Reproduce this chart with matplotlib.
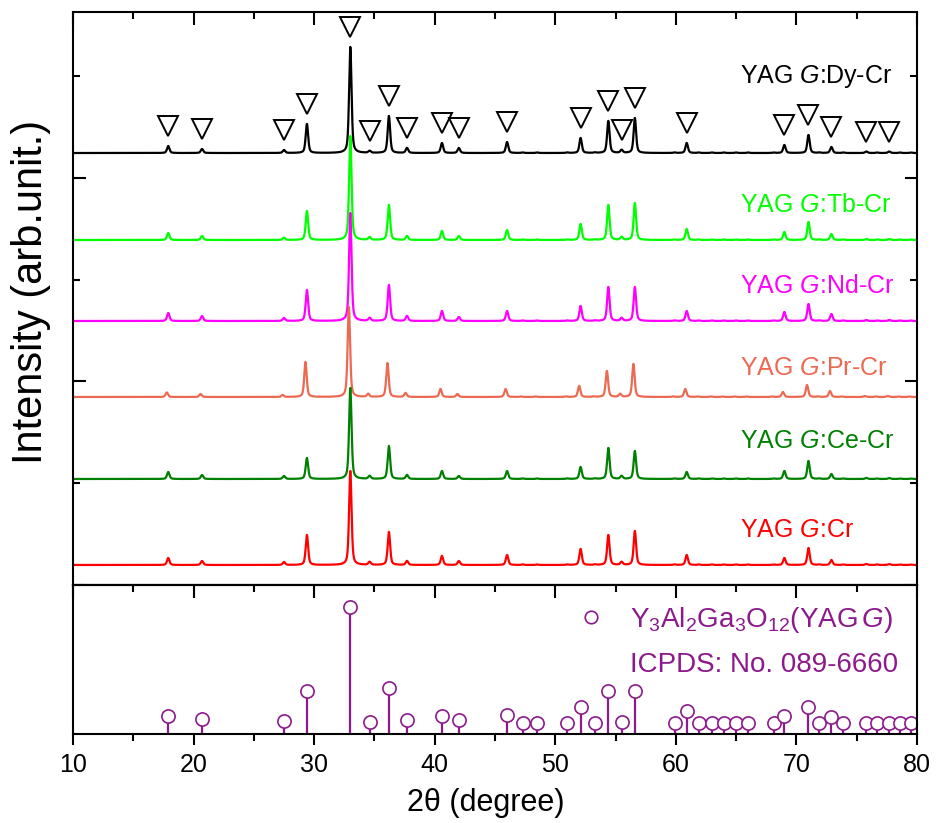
import numpy as np
import matplotlib.pyplot as plt
from matplotlib.ticker import MultipleLocator

plt.rcParams['font.family'] = ['Liberation Sans', 'DejaVu Sans']
plt.rcParams['mathtext.fontset'] = 'custom'
plt.rcParams['mathtext.rm'] = 'Liberation Sans'
plt.rcParams['mathtext.it'] = 'Liberation Sans:italic'

# peak positions (2theta)
peak_pos = [17.9, 20.7, 27.5, 29.4, 33.0, 34.6, 36.2, 37.7, 40.6, 42.0, 46.0, 47.3,
            48.5, 51.0, 52.1, 53.3, 54.4, 55.5, 56.6, 59.9, 60.9, 61.9, 63.0, 64.0,
            65.0, 66.0, 68.1, 69.0, 71.0, 71.9, 72.9, 73.9, 75.8, 76.7, 77.7, 78.6, 79.5]

samples = ['Dy-Cr', 'Tb-Cr', 'Nd-Cr', 'Pr-Cr', 'Ce-Cr', 'Cr']
colors = ['black', '#00FF00', '#FF00FF', '#EC6A52', '#008000', '#FF0000']
offsets = [432, 345, 264, 188, 106, 20]
shifts = [0.0, 0.0, 0.0, -0.12, 0.0, 0.0]

h_dy = [7, 4, 3, 29, 106, 2, 37, 5, 10, 5, 11, 0.5, 0.5, 0.5, 15, 0.5, 32, 3, 35, 0.5, 10, 0.5, 0.5, 0.5,
        0.5, 0.5, 0.5, 8, 18, 0.5, 6, 0.5, 1.5, 0.5, 1.5, 0.5, 0.5]
h_tb = [7, 4, 2.3, 29, 104, 2.7, 35, 4, 9, 4, 10, 0.5, 0.5, 0.5, 16, 0.5, 35, 3, 37, 0.5, 11, 0.5, 0.5, 0.5,
        0.5, 0.5, 0.5, 8, 18, 0.5, 6, 0.5, 1, 0.5, 1, 0.5, 0.5]
h_nd = [8, 5, 3, 31, 108, 3, 36, 5, 10, 4, 10, 0.5, 0.5, 0.5, 15, 0.5, 34, 3, 34, 0.5, 10, 0.5, 0.5, 0.5,
        0.5, 0.5, 0.5, 9, 17, 0.5, 7, 0.5, 1, 0.5, 1, 0.5, 0.5]
h_pr = [4.5, 3, 2, 35, 90, 3, 34, 4, 8, 3, 8, 0.5, 0.5, 0.5, 11, 0.5, 26, 3, 33, 0.5, 8, 0.5, 0.5, 0.5,
        0.5, 0.5, 0.5, 5, 12, 0.5, 6, 0.5, 1, 0.5, 1, 0.5, 0.5]
h_ce = [7, 4, 3, 21, 91, 3, 33, 4, 8, 3, 8, 0.5, 0.5, 0.5, 12, 0.5, 31, 3, 28, 0.5, 7, 0.5, 0.5, 0.5,
        0.5, 0.5, 0.5, 8, 18, 0.5, 5, 0.5, 1, 0.5, 1, 0.5, 0.5]
h_cr = [7, 4, 3, 30, 94, 3, 33, 4, 9, 4, 10, 0.5, 0.5, 0.5, 16, 0.5, 30, 3, 34, 0.5, 10, 0.5, 0.5, 0.5,
        0.5, 0.5, 0.5, 7, 17, 0.5, 5, 0.5, 1, 0.5, 1, 0.5, 0.5]
heights = [h_dy, h_tb, h_nd, h_pr, h_ce, h_cr]

# peaks marked with a triangle on the top pattern
tri_idx = [0, 1, 2, 3, 4, 5, 6, 7, 8, 9, 10, 14, 16, 17, 18, 20, 27, 28, 30, 32, 34]

# reference card (stick pattern)
ref_h = [18, 15, 13, 43, 127, 12, 46, 14, 18, 14, 19, 11, 11, 11, 27, 11, 43, 12, 43, 11,
         23, 11, 11, 11, 11, 11, 11, 18, 27, 11, 17, 11, 11, 11, 11, 11, 11]
purple = '#8C1A8C'


def pattern(x, pos, h, shift, fwhm=0.24, eta=0.5):
    y = np.zeros_like(x)
    hw = fwhm / 2
    for p, a in zip(pos, h):
        d = (x - p - shift) / hw
        y += a * (eta / (1 + d ** 2) + (1 - eta) * np.exp(-np.log(2) * d ** 2))
    return y


fig = plt.figure(figsize=(9.36, 8.23), dpi=100)
ax1 = fig.add_axes([0.078, 0.2892, 0.9017, 0.6962])
ax2 = fig.add_axes([0.078, 0.1081, 0.9017, 0.1811])

x = np.arange(10, 80.001, 0.01)
for name, c, off, sh, h in zip(samples, colors, offsets, shifts, heights):
    ax1.plot(x, off + pattern(x, peak_pos, h, sh), color=c, lw=1.6)

label_y = [502, 373, 292, 210, 137, 48]
for name, c, ly in zip(samples, colors, label_y):
    ax1.text(65.3, ly, r'YAG $\mathit{G}$:' + name, color=c, fontsize=18,
             ha='left', va='baseline')

tri_x = [peak_pos[i] for i in tri_idx]
tri_y = [offsets[0] + h_dy[i] + 20 for i in tri_idx]
ax1.plot(tri_x, tri_y, 'v', ls='none', ms=14, mfc='none', mec='black', mew=1.4)

ax1.set_xlim(10, 80)
ax1.set_ylim(0, 573)
ax1.set_yticks([0, 204, 407])
ax1.set_yticks([102, 305, 509], minor=True)
ax1.xaxis.set_major_locator(MultipleLocator(10))
ax1.xaxis.set_minor_locator(MultipleLocator(5))
ax1.tick_params(axis='x', which='both', direction='in', top=True, bottom=False,
                labelbottom=False, width=1.5)
ax1.tick_params(axis='y', which='both', direction='in', left=True, right=True,
                labelleft=False, width=1.5)
ax1.tick_params(which='major', length=9)
ax1.tick_params(which='minor', length=5)

ax2.vlines(peak_pos, 0, ref_h, color=purple, lw=1.6)
ax2.plot(peak_pos, ref_h, 'o', ls='none', ms=9.5, mfc='white', mec=purple, mew=1.2)
ax2.plot([53.0], [117], 'o', ms=9, mfc='white', mec=purple, mew=1.2)
ax2.text(56.2, 107, r'Y$_3$Al$_2$Ga$_3$O$_{12}$(YAG$\,\mathit{G}$)', color=purple,
         fontsize=20, ha='left', va='baseline')
ax2.text(56.2, 62, 'ICPDS: No. 089-6660', color=purple, fontsize=20,
         ha='left', va='baseline')
ax2.set_xlim(10, 80)
ax2.set_ylim(0, 149)
ax2.set_yticks([])
ax2.xaxis.set_major_locator(MultipleLocator(10))
ax2.xaxis.set_minor_locator(MultipleLocator(5))
ax2.tick_params(axis='x', which='both', direction='out', top=False, bottom=True,
                width=1.5, labelsize=18, pad=6)
ax2.tick_params(axis='x', which='major', length=8)
ax2.tick_params(axis='x', which='minor', length=5)
sec = ax2.secondary_xaxis('top')
sec.xaxis.set_major_locator(MultipleLocator(10))
sec.xaxis.set_minor_locator(MultipleLocator(5))
sec.tick_params(axis='x', which='both', direction='in', labeltop=False, width=1.5)
sec.tick_params(axis='x', which='major', length=9)
sec.tick_params(axis='x', which='minor', length=5)

for ax in (ax1, ax2, sec):
    for s in ax.spines.values():
        s.set_linewidth(1.5)

fig.text(31 / 936, 1 - 292 / 823, 'Intensity (arb.unit.)', rotation=90,
         fontsize=30, ha='center', va='center')
fig.text(486 / 936, 1 - 803 / 823, '2θ (degree)', fontsize=22,
         ha='center', va='center')

fig.savefig('out.png', dpi=100)
